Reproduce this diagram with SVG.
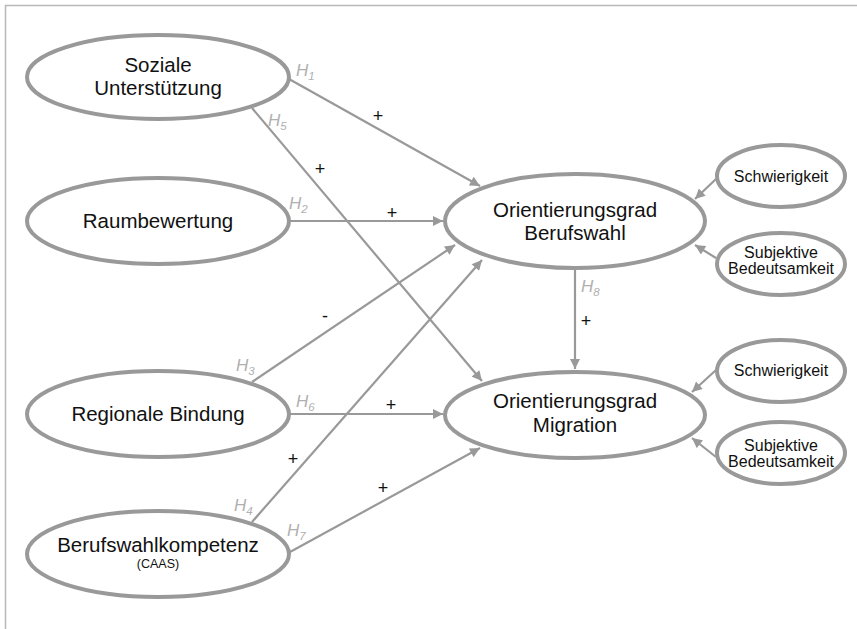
<svg xmlns="http://www.w3.org/2000/svg" width="857" height="629" viewBox="0 0 857 629">
  <style>
    .node ellipse { fill: #ffffff; stroke: #999999; stroke-width: 4; }
    .lbl { font-family: "Liberation Sans", Arial, sans-serif; font-size: 20.5px; fill: #111111; text-anchor: middle; }
    .sm { font-family: "Liberation Sans", Arial, sans-serif; font-size: 16px; fill: #111111; text-anchor: middle; }
    .tiny { font-family: "Liberation Sans", Arial, sans-serif; font-size: 12.5px; fill: #111111; text-anchor: middle; }
    .edge { stroke: #999999; stroke-width: 2.2; fill: none; marker-end: url(#arrow); }
    .hyp { font-family: "Liberation Sans", Arial, sans-serif; font-size: 17px; font-style: italic; fill: #b0b0b0; }
    .hyp tspan { font-size: 11.5px; }
    .sign { font-family: "Liberation Sans", Arial, sans-serif; font-size: 18px; fill: #111111; text-anchor: middle; }
  </style>
  <defs>
    <marker id="arrow" viewBox="0 0 10 10" refX="10" refY="5" markerWidth="11" markerHeight="10" markerUnits="userSpaceOnUse" orient="auto">
      <path d="M0,0 L10,5 L0,10 z" fill="#999999"/>
    </marker>
  </defs>

  <!-- frame -->
  <path d="M5.5,629 V5.5 H857" fill="none" stroke="#b8b8b8" stroke-width="1.5"/>

  <!-- connectors -->
  <g id="edges">
    <line class="edge" x1="289" y1="79" x2="480" y2="186"/>
    <line class="edge" x1="252" y1="108" x2="482" y2="381"/>
    <line class="edge" x1="289" y1="221" x2="443" y2="221"/>
    <line class="edge" x1="252" y1="382" x2="455" y2="245"/>
    <line class="edge" x1="252" y1="522" x2="482" y2="260"/>
    <line class="edge" x1="289" y1="414" x2="443" y2="414"/>
    <line class="edge" x1="290" y1="552" x2="480" y2="448"/>
    <line class="edge" x1="575" y1="269" x2="575" y2="369"/>
    <line class="edge" x1="716" y1="179" x2="695" y2="199"/>
    <line class="edge" x1="716" y1="258" x2="695" y2="245"/>
    <line class="edge" x1="716" y1="370" x2="692" y2="392"/>
    <line class="edge" x1="716" y1="457" x2="692" y2="438"/>
  </g>

  <!-- hypothesis labels and signs -->
  <g id="edge-labels">
    <text class="hyp" x="296" y="76">H<tspan dy="4">1</tspan></text>
    <text class="hyp" x="268" y="126">H<tspan dy="4">5</tspan></text>
    <text class="hyp" x="289" y="209">H<tspan dy="4">2</tspan></text>
    <text class="hyp" x="236" y="371">H<tspan dy="4">3</tspan></text>
    <text class="hyp" x="234" y="511">H<tspan dy="4">4</tspan></text>
    <text class="hyp" x="296" y="407">H<tspan dy="4">6</tspan></text>
    <text class="hyp" x="287" y="536">H<tspan dy="4">7</tspan></text>
    <text class="hyp" x="581" y="292">H<tspan dy="4">8</tspan></text>

    <text class="sign" x="378" y="122">+</text>
    <text class="sign" x="320" y="175">+</text>
    <text class="sign" x="392" y="219">+</text>
    <text class="sign" x="325" y="322">-</text>
    <text class="sign" x="391" y="411">+</text>
    <text class="sign" x="293" y="465">+</text>
    <text class="sign" x="383" y="494">+</text>
    <text class="sign" x="586" y="327">+</text>
  </g>

  <!-- nodes -->
  <g id="soziale-unterstuetzung" class="node">
    <ellipse cx="158" cy="77" rx="131" ry="42"/>
    <text class="lbl" x="158" y="72">Soziale</text>
    <text class="lbl" x="158" y="95">Unterstützung</text>
  </g>
  <g id="raumbewertung" class="node">
    <ellipse cx="158" cy="221" rx="131" ry="43"/>
    <text class="lbl" x="158" y="228">Raumbewertung</text>
  </g>
  <g id="regionale-bindung" class="node">
    <ellipse cx="158" cy="414" rx="131" ry="43"/>
    <text class="lbl" x="158" y="421">Regionale Bindung</text>
  </g>
  <g id="berufswahlkompetenz" class="node">
    <ellipse cx="158" cy="554" rx="131" ry="43"/>
    <text class="lbl" x="158" y="552">Berufswahlkompetenz</text>
    <text class="tiny" x="158" y="568">(CAAS)</text>
  </g>
  <g id="orientierung-berufswahl" class="node">
    <ellipse cx="575" cy="221" rx="130" ry="47"/>
    <text class="lbl" x="575" y="217">Orientierungsgrad</text>
    <text class="lbl" x="575" y="240">Berufswahl</text>
  </g>
  <g id="orientierung-migration" class="node">
    <ellipse cx="575" cy="415" rx="130" ry="43"/>
    <text class="lbl" x="575" y="408">Orientierungsgrad</text>
    <text class="lbl" x="575" y="432">Migration</text>
  </g>
  <g id="schwierigkeit-1" class="node">
    <ellipse cx="781" cy="176" rx="64" ry="31"/>
    <text class="sm" x="781" y="182">Schwierigkeit</text>
  </g>
  <g id="bedeutsamkeit-1" class="node">
    <ellipse cx="781" cy="264" rx="64" ry="31"/>
    <text class="sm" x="781" y="258">Subjektive</text>
    <text class="sm" x="781" y="274">Bedeutsamkeit</text>
  </g>
  <g id="schwierigkeit-2" class="node">
    <ellipse cx="781" cy="371" rx="64" ry="31"/>
    <text class="sm" x="781" y="376">Schwierigkeit</text>
  </g>
  <g id="bedeutsamkeit-2" class="node">
    <ellipse cx="781" cy="453" rx="64" ry="31"/>
    <text class="sm" x="781" y="451">Subjektive</text>
    <text class="sm" x="781" y="467">Bedeutsamkeit</text>
  </g>
</svg>
